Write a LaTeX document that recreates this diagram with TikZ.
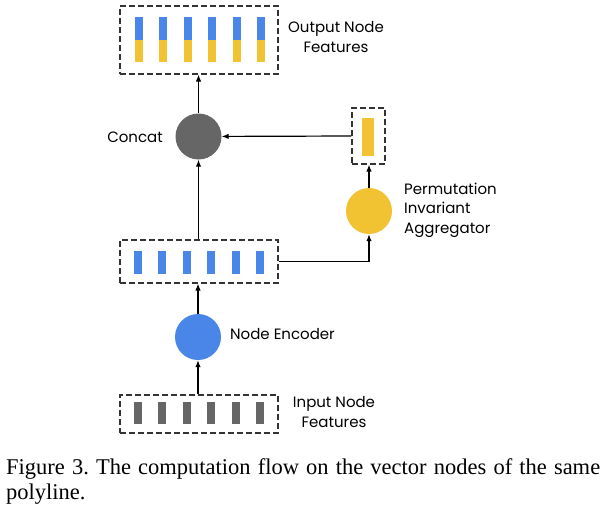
\documentclass[tikz,border=0pt]{standalone}
\usepackage{fontspec}
\setmainfont{Liberation Serif}
\newfontfamily\labelfont{Poppins}
\usepackage{xcolor}
\usetikzlibrary{arrows.meta, positioning, calc}

\definecolor{featblue}{HTML}{4A86E8}
\definecolor{featyellow}{HTML}{F1C232}
\definecolor{featgray}{HTML}{666666}

\tikzset{
    featbox/.style={draw=black!80, line width=1.1pt, dash pattern=on 6pt off 3pt, inner sep=0pt, minimum width=158pt},
    opnode/.style={circle, minimum size=46pt, inner sep=0pt},
    lbl/.style={font=\labelfont\fontsize{15}{19.5}\selectfont, align=left, inner sep=0pt},
    flow/.style={line width=1.2pt, -{Latex[length=7pt, width=5.5pt]}}
}

\begin{document}
\begin{tikzpicture}[x=1pt, y=-1pt]
    \useasboundingbox (0,0) rectangle (608,522);

    % Riquadri delle feature
    \node[featbox, minimum height=68pt] (outbox) at (199,40) {};
    \node[featbox, minimum height=43pt] (midbox) at (199,261.5) {};
    \node[featbox, minimum height=38pt] (inbox) at (199,414) {};
    \node[featbox, minimum width=33pt, minimum height=56pt] (aggbox) at (368.5,136) {};

    % Barre
    \foreach \i in {0,...,5}{
        \fill[featblue] (135+24.4*\i,17) rectangle (143+24.4*\i,40);
        \fill[featyellow] (135+24.4*\i,40) rectangle (143+24.4*\i,62);
        \fill[featblue] (134+24.4*\i,251) rectangle (142+24.4*\i,274);
        \fill[featgray] (134+24.4*\i,402) rectangle (142+24.4*\i,424);
    }
    \fill[featyellow] (362,118) rectangle (374,156);

    % Operazioni
    \node[opnode, fill=featgray] (concat) at (198.5,136.5) {};
    \node[opnode, fill=featyellow] (agg) at (369,211) {};
    \node[opnode, fill=featblue] (enc) at (198,337) {};

    % Etichette
    \node[lbl, align=center] (outlbl) at (336,37) {Output Node\\Features};
    \node[lbl, anchor=east] (catlbl) at (163,137) {Concat};
    \node[lbl, anchor=west] (agglbl) at (404,210) {Permutation\\Invariant\\Aggregator};
    \node[lbl, anchor=west] (enclbl) at (230,334) {Node Encoder};
    \node[lbl, align=center] (inlbl) at (334,412) {Input Node\\Features};

    % Frecce
    \draw[flow] (inbox.north -| enc) -- (enc);
    \draw[flow] (enc) -- (midbox.south -| enc);
    \draw[flow] (midbox.north -| concat) -- (concat);
    \draw[flow] (concat) -- (outbox.south -| concat);
    \draw[flow] (midbox.east) -| (agg);
    \draw[flow] (agg) -- (aggbox.south -| agg);
    \draw[flow] (aggbox.west) -- (concat);

    % Didascalia
    \node[anchor=north west, inner sep=0pt, text width=594pt, align=justify,
          font=\fontsize{22.5}{25}\selectfont\frenchspacing] (caption) at (6,458)
        {Figure 3. The computation flow on the vector nodes of the same polyline.};
\end{tikzpicture}
\end{document}
